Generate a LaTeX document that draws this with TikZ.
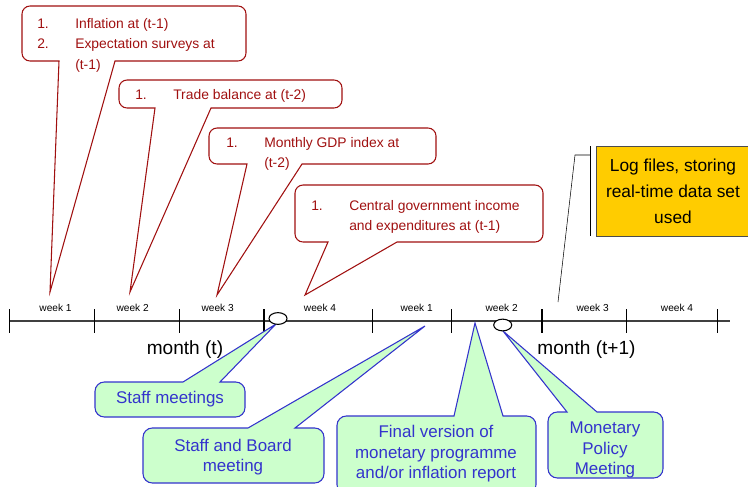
\documentclass[tikz,border=0pt]{standalone}
\usepackage{fontspec}
\setmainfont{Liberation Sans}
\usepackage{tikz}
\definecolor{callred}{RGB}{160,16,16}
\definecolor{callblue}{RGB}{51,51,204}
\definecolor{callgreen}{RGB}{204,255,204}
\definecolor{logyellow}{RGB}{255,204,0}

\begin{document}
\begin{tikzpicture}[x=0.75pt,y=-0.75pt,
    redcall/.style={draw=callred,line width=0.8pt},
    greencall/.style={draw=callblue,fill=callgreen,line width=0.8pt},
    redtext/.style={text=callred,inner sep=0pt,anchor=base west,font=\fontsize{10.4}{15.6}\selectfont},
    bluetext/.style={text=callblue,inner sep=0pt,align=center,font=\fontsize{12.7}{15.4}\selectfont},
    weeklabel/.style={inner sep=0pt,font=\fontsize{7.6}{9}\selectfont},
    monthlabel/.style={inner sep=0pt,font=\fontsize{14.3}{17}\selectfont}]
\useasboundingbox (0,0) rectangle (748,486);
\coordinate (T1) at (50,292);
\coordinate (T2) at (130,292);
\coordinate (T3) at (217,295);
\coordinate (T4) at (305,295);
\coordinate (T5) at (558,302);
\coordinate (B1) at (276,324);
\coordinate (B2) at (425,326);
\coordinate (B3) at (475,323);
\coordinate (B4) at (503,331);
\draw[line width=0.8pt,black!75] (9.5,321) -- (730,321);
\draw[line width=1pt] (9.5,309) -- (9.5,333);
\draw[line width=1pt] (94.5,309) -- (94.5,333);
\draw[line width=1pt] (179.5,309) -- (179.5,333);
\draw[line width=1pt] (264,309) -- (264,333);
\draw[line width=1pt] (372.7,309) -- (372.7,333);
\draw[line width=1pt] (451.3,309) -- (451.3,333);
\draw[line width=1pt] (542,309) -- (542,333);
\draw[line width=1pt] (626.7,309) -- (626.7,333);
\draw[line width=1pt] (717.3,309) -- (717.3,333);
\node[weeklabel] (w1) at (55.5,307.5) {week 1};
\node[weeklabel] (w2) at (132.7,307.5) {week 2};
\node[weeklabel] (w3) at (217.7,307.5) {week 3};
\node[weeklabel] (w4) at (320,307.5) {week 4};
\node[weeklabel] (w5) at (416.7,307.5) {week 1};
\node[weeklabel] (w6) at (501.7,307.5) {week 2};
\node[weeklabel] (w7) at (592.7,307.5) {week 3};
\node[weeklabel] (w8) at (677,307.5) {week 4};
\node[monthlabel] (mt) at (185,350) {month (t)};
\node[monthlabel] (mtt) at (586.5,350) {month (t+1)};
\draw[redcall] (T1) -- (59,61) {[rounded corners=6pt] -- (22,61) -- (22,6) -- (246,6) -- (246,61)} -- (115,61) -- cycle;
\node[redtext] (infl) at (37,28) {\begin{tabular}[t]{@{}p{28.5pt}@{}l@{}}1.&Inflation at (t-1)\\2.&Expectation surveys at\\&(t-1)\end{tabular}};
\draw[redcall] (T2) -- (155,108) {[rounded corners=6pt] -- (119,108) -- (119,80) -- (342,80) -- (342,108)} -- (211,108) -- cycle;
\node[redtext] (trade) at (135,99) {\begin{tabular}[t]{@{}p{28.5pt}@{}l@{}}1.&Trade balance at (t-2)\end{tabular}};
\draw[redcall] (T3) -- (247,164) {[rounded corners=6pt] -- (209,164) -- (209,128) -- (436,128) -- (436,164)} -- (302,164) -- cycle;
\node[redtext] (gdp) at (226,147) {\begin{tabular}[t]{@{}p{28.5pt}@{}l@{}}1.&Monthly GDP index at\\&(t-2)\end{tabular}};
\draw[redcall] (T4) -- (328,242) {[rounded corners=6pt] -- (295,242) -- (295,185) -- (543,185) -- (543,242)} -- (397,242) -- cycle;
\node[redtext] (govt) at (311,210) {\begin{tabular}[t]{@{}p{28.5pt}@{}l@{}}1.&Central government income\\&and expenditures at (t-1)\end{tabular}};
\node[draw=black!70,fill=logyellow,minimum width=115.5pt,minimum height=67.5pt,inner sep=0pt,align=center,font=\fontsize{13}{19.5}\selectfont] (L) at (673,191) {Log files, storing\\real-time data set\\used};
\draw[line width=0.6pt] (590,146) -- (590,236);
\draw[] (590,155) -- (575,155) -- (T5);
\draw[greencall] (B1) -- (183,382) {[rounded corners=7pt] -- (95,382) -- (95,417) -- (245,417) -- (245,382)} -- (220,382) -- cycle;
\node[bluetext] (staff) at (170,399) {Staff meetings};
\draw[greencall] (B2) -- (248,428) {[rounded corners=7pt] -- (143,428) -- (143,483) -- (324,483) -- (324,428)} -- (295,428) -- cycle;
\node[bluetext] (board) at (233,457) {Staff and Board\\meeting};
\draw[greencall] (B3) -- (454,416) {[rounded corners=7pt] -- (337,416) -- (337,494) -- (536,494) -- (536,416)} -- (503,416) -- cycle;
\node[bluetext] (final) at (436,454) {Final version of\\monetary programme\\and/or inflation report};
\draw[greencall] (B4) -- (567,412) {[rounded corners=7pt] -- (548,412) -- (548,478) -- (663,478) -- (663,412)} -- (597,412) -- cycle;
\node[bluetext] (mpm) at (605,450) {Monetary\\Policy\\Meeting};
\draw[fill=white,line width=0.8pt] (278,318.5) ellipse [x radius=6.75pt,y radius=4.4pt];
\draw[fill=white,line width=0.8pt] (502.7,325) ellipse [x radius=6.75pt,y radius=4.4pt];
\end{tikzpicture}
\end{document}
